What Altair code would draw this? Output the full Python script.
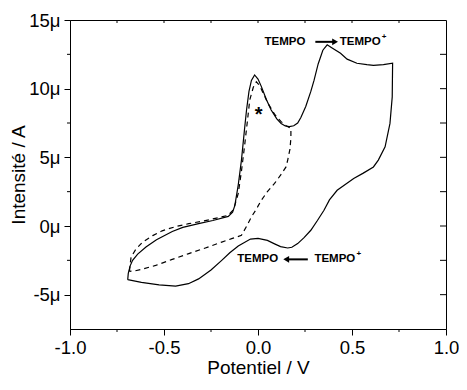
import altair as alt
import pandas as pd

# ---- data (potential in V, current in µA) ----
solid_x = [-0.693, -0.690, -0.680, -0.667, -0.640, -0.596, -0.540, -0.456, -0.400, -0.316,
           -0.240, -0.158, -0.135, -0.123, -0.105, -0.088, -0.072, -0.061, -0.048, -0.035,
           -0.018, 0.000, 0.018, 0.045, 0.070, 0.100, 0.123, 0.145, 0.167, 0.190,
           0.211, 0.228, 0.254, 0.281, 0.298, 0.320, 0.345, 0.368, 0.390, 0.439,
           0.474, 0.526, 0.579, 0.614, 0.667, 0.716,
           0.714, 0.702, 0.676, 0.640, 0.614, 0.560, 0.509, 0.421, 0.380, 0.351,
           0.316, 0.281, 0.245, 0.211, 0.180, 0.158, 0.120, 0.088, 0.050, 0.000,
           -0.040, -0.105, -0.150, -0.193, -0.250, -0.316, -0.370, -0.438, -0.526, -0.620,
           -0.693]
solid_y = [-3.91, -3.45, -2.90, -2.50, -2.05, -1.53, -1.00, -0.40, -0.10, 0.17,
           0.40, 0.70, 1.00, 1.50, 3.00, 4.80, 7.00, 8.45, 9.80, 10.60,
           11.00, 10.70, 10.15, 9.20, 8.45, 7.80, 7.47, 7.28, 7.23, 7.30,
           7.50, 7.90, 8.70, 9.80, 10.60, 11.80, 12.80, 13.19, 13.00, 12.58,
           12.15, 11.85, 11.75, 11.70, 11.75, 11.85,
           9.40, 7.47, 5.77, 4.80, 4.30, 3.85, 3.46, 2.60, 1.90, 1.15,
           0.40, -0.31, -0.85, -1.28, -1.55, -1.60, -1.50, -1.30, -1.05, -0.90,
           -0.95, -1.45, -1.95, -2.50, -3.20, -3.85, -4.20, -4.38, -4.28, -4.10,
           -3.91]

dash_x = [-0.684, -0.680, -0.675, -0.650, -0.614, -0.560, -0.510, -0.440, -0.368, -0.260,
          -0.158, -0.130, -0.105, -0.088, -0.070, -0.055, -0.044, -0.025, -0.009, 0.010,
          0.030, 0.053, 0.090, 0.123, 0.150, 0.175,
          0.175, 0.170, 0.158, 0.149, 0.120, 0.088, 0.050, 0.018, -0.010, -0.035,
          -0.060, -0.088, -0.140, -0.193, -0.280, -0.368, -0.460, -0.544, -0.610, -0.658,
          -0.684]
dash_y = [-3.30, -2.80, -2.26, -1.70, -1.17, -0.70, -0.35, -0.05, 0.17, 0.45,
          0.78, 1.20, 2.37, 4.00, 6.00, 7.80, 9.17, 10.10, 10.50, 10.20,
          9.60, 8.93, 8.10, 7.60, 7.30, 7.10,
          6.40, 5.60, 4.80, 4.30, 3.70, 3.10, 2.50, 1.88, 1.20, 0.66,
          0.00, -0.68, -0.92, -1.17, -1.60, -2.01, -2.45, -2.87, -3.12, -3.28,
          -3.30]

x_major = [-1.0, -0.5, 0.0, 0.5, 1.0]
x_minor = [-0.75, -0.25, 0.25, 0.75]
x_top = [-0.75, -0.5, -0.25, 0.0, 0.25, 0.5, 0.75]
y_major = [-5, 0, 5, 10, 15]
y_minor = [-2.5, 2.5, 7.5, 12.5]
y_right = [-5, -2.5, 0, 2.5, 5, 7.5, 10, 12.5]

ann_text = ["TEMPO", "TEMPO", "TEMPO", "TEMPO"]
ann_x = [0.035, 0.435, -0.110, 0.300]
ann_y = [13.41, 13.41, -2.43, -2.43]

W, H = 376, 309
FONT = "Liberation Sans"

xs = alt.Scale(domain=[-1.0, 1.0], nice=False, zero=False)
ys = alt.Scale(domain=[-7.5, 15], nice=False, zero=False)

x_axis = alt.Axis(values=x_major, title="Potentiel / V",
                  labelExpr="(datum.value < 0 ? '-' : '') + format(abs(datum.value), '.1f')",
                  labelFlush=False, labelOverlap=False,
                  tickSize=6, labelPadding=3, grid=False, domainColor="black", tickColor="black",
                  labelFontSize=18.5, titleFontSize=19, titleFontWeight="normal",
                  titleBaseline="alphabetic", titleY=44, labelColor="black", titleColor="black",
                  labelFont=FONT, titleFont=FONT)
y_axis = alt.Axis(values=y_major, title="Intensité / A",
                  labelExpr="datum.value + 'μ'",
                  labelFlush=False, labelOverlap=False,
                  tickSize=6, labelPadding=4, grid=False, domainColor="black", tickColor="black",
                  labelFontSize=18.5, titleFontSize=19, titleFontWeight="normal",
                  titleBaseline="alphabetic", titleX=-46, labelColor="black", titleColor="black",
                  labelFont=FONT, titleFont=FONT)


def X(field="x"):
    return alt.X(f"{field}:Q", scale=xs, axis=x_axis)


def Y(field="y"):
    return alt.Y(f"{field}:Q", scale=ys, axis=y_axis)


df_s = pd.DataFrame({"x": solid_x, "y": solid_y, "i": range(len(solid_x))})
df_d = pd.DataFrame({"x": dash_x, "y": dash_y, "i": range(len(dash_x))})

solid = alt.Chart(df_s).mark_line(color="black", strokeWidth=1.2).encode(
    x=X(), y=Y(), order=alt.Order("i:Q"))
dashed = alt.Chart(df_d).mark_line(color="black", strokeWidth=1.2, strokeDash=[5, 4]).encode(
    x=X(), y=Y(), order=alt.Order("i:Q"))

# extra ticks
bot_minor = alt.Chart(pd.DataFrame({"x": x_minor})).mark_rule(color="black").encode(
    x=X(), y=alt.value(H), y2=alt.value(H + 3))
left_minor = alt.Chart(pd.DataFrame({"y": y_minor})).mark_rule(color="black").encode(
    y=Y(), x=alt.value(0), x2=alt.value(-3))
top_ticks = alt.Chart(pd.DataFrame({"x": x_top})).mark_rule(color="black").encode(
    x=X(), y=alt.value(0), y2=alt.value(3))
right_ticks = alt.Chart(pd.DataFrame({"y": y_right})).mark_rule(color="black").encode(
    y=Y(), x=alt.value(W), x2=alt.value(W - 6))

# annotations
df_ann = pd.DataFrame({"x": ann_x, "y": ann_y, "t": ann_text})
ann = alt.Chart(df_ann).mark_text(font=FONT, fontSize=11.5, fontWeight="bold", align="left",
                                  baseline="middle", color="black").encode(
    x=X(), y=Y(), text="t:N")
df_plus = pd.DataFrame({"x": [ann_x[1], ann_x[3]], "y": [ann_y[1], ann_y[3]], "t": ["+", "+"]})
plus = alt.Chart(df_plus).mark_text(font=FONT, fontSize=8, fontWeight="bold", align="left",
                                    baseline="middle", color="black", dx=42, dy=-5).encode(
    x=X(), y=Y(), text="t:N")

arrow_x = [0.305, 0.150]
arrow_x2 = [0.405, 0.265]
arrow_y = [13.41, -2.43]
df_arr = pd.DataFrame({"x": arrow_x, "x2": arrow_x2, "y": arrow_y})
arr_line = alt.Chart(df_arr).mark_rule(color="black", strokeWidth=2).encode(
    x=X(), x2="x2:Q", y=Y())
df_head = pd.DataFrame({"x": [0.410, 0.150], "y": arrow_y,
                        "s": ["triangle-right", "triangle-left"]})
arr_head = alt.Chart(df_head).mark_point(filled=True, color="black", opacity=1, size=45).encode(
    x=X(), y=Y(), shape=alt.Shape("s:N", scale=None, legend=None))

star = alt.Chart(pd.DataFrame({"x": [0.004], "y": [8.45], "t": ["*"]})).mark_text(
    font=FONT, fontSize=20, fontWeight="bold", baseline="middle", align="center",
    color="black", dy=5).encode(x=X(), y=Y(), text="t:N")

chart = alt.layer(solid, dashed, bot_minor, left_minor, top_ticks, right_ticks,
                  arr_line, arr_head, ann, plus, star).properties(
    width=W, height=H,
    autosize=alt.AutoSizeParams(type="none"),
    padding={"left": 62, "top": 12, "right": 13, "bottom": 49},
).configure(font=FONT).configure_view(stroke="black", strokeWidth=1)

chart.save("out.html", embed_options={"renderer": "svg", "actions": False})
